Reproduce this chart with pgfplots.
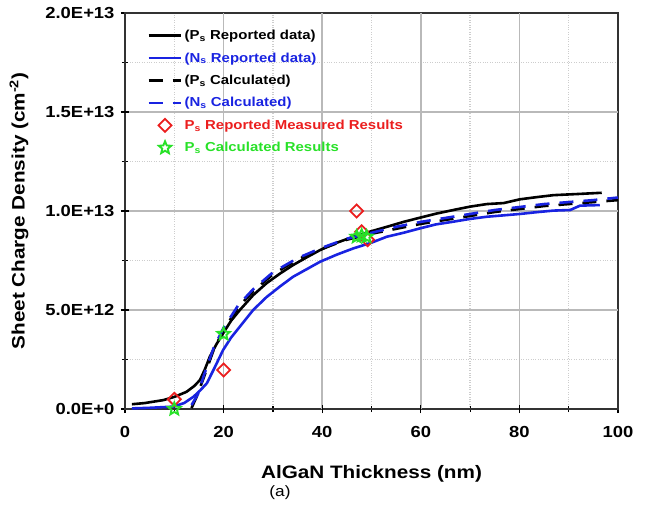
\documentclass[border=0pt]{standalone}
\usepackage{fontspec}
\setmainfont{Liberation Sans}[FakeStretch=1.15]
\usepackage{pgfplots}
\pgfplotsset{compat=1.18}
\definecolor{cblue}{RGB}{25,35,225}
\definecolor{cred}{RGB}{235,30,30}
\definecolor{cgreen}{RGB}{40,225,40}
\definecolor{gridgray}{RGB}{185,185,185}
\definecolor{mgridgray}{RGB}{205,205,205}
% outlined five-pointed star
\pgfdeclareplotmark{ostar}{%
  \pgfpathmoveto{\pgfpointpolar{90}{\pgfplotmarksize}}%
  \pgfpathlineto{\pgfpointpolar{126}{0.45\pgfplotmarksize}}%
  \pgfpathlineto{\pgfpointpolar{162}{\pgfplotmarksize}}%
  \pgfpathlineto{\pgfpointpolar{198}{0.45\pgfplotmarksize}}%
  \pgfpathlineto{\pgfpointpolar{234}{\pgfplotmarksize}}%
  \pgfpathlineto{\pgfpointpolar{270}{0.45\pgfplotmarksize}}%
  \pgfpathlineto{\pgfpointpolar{306}{\pgfplotmarksize}}%
  \pgfpathlineto{\pgfpointpolar{342}{0.45\pgfplotmarksize}}%
  \pgfpathlineto{\pgfpointpolar{18}{\pgfplotmarksize}}%
  \pgfpathlineto{\pgfpointpolar{54}{0.45\pgfplotmarksize}}%
  \pgfpathclose
  \pgfusepathqstroke}
\begin{document}
\begin{tikzpicture}
\begin{axis}[
  scale only axis, width=493pt, height=396pt,
  xmin=0, xmax=100, ymin=0, ymax=20,
  xtick={0,20,40,60,80,100}, xticklabels={0,20,40,60,80,100},
  ytick={0,5,10,15,20}, yticklabels={0.0E+0,5.0E+12,1.0E+13,1.5E+13,2.0E+13},
  minor x tick num=1, minor y tick num=1,
  tick pos=left, tick align=center,
  major tick length=8pt, minor tick length=6pt,
  every tick/.append style={black, line width=1.2pt},
  axis line style={line width=1.3pt, black!80},
  grid=both,
  minor grid style={color=mgridgray, dotted, line width=1.3pt},
  major grid style={color=gridgray, solid, line width=1.5pt},
  extra x ticks={20,40,60,80}, extra y ticks={5,10,15},
  extra x tick labels={}, extra y tick labels={},
  extra tick style={grid=major, major grid style={color=gridgray, solid, line width=1.5pt}},
  ticklabel style={font=\bfseries\fontsize{16}{18}\selectfont},
  xticklabel style={yshift=-10pt},
  yticklabel style={xshift=-3pt},
  xlabel={\bfseries AlGaN Thickness (nm)},
  ylabel={\bfseries Sheet Charge Density (cm\textsuperscript{-2})},
  label style={font=\bfseries\fontsize{18}{20}\selectfont},
  xlabel style={yshift=-13pt},
  ylabel style={yshift=2pt},
  legend style={draw=none, fill=none, at={(0.045,0.962)}, anchor=north west,
    font=\bfseries\fontsize{13}{14}\selectfont, row sep=7.5pt, inner sep=0pt},
  legend cell align=left,
  legend image code/.code={\draw[mark repeat=2,mark phase=2,#1] plot coordinates {(0cm,0cm) (0.575cm,0cm) (1.15cm,0cm)};},
]
% P_s reported data
\addplot[black, line width=2.6pt] coordinates {
(1.4,0.24) (4,0.3) (7.8,0.45) (10.1,0.62) (12.5,0.87) (14,1.15) (15.2,1.46) (16.2,2.0) (17.2,2.64)
(18.5,3.25) (19.9,3.82) (21.5,4.45) (23.3,5.0) (26,5.75) (28.7,6.35) (31.5,6.85) (34.1,7.27)
(37,7.68) (39.6,8.03) (43,8.4) (46.3,8.7) (50,8.98) (53.1,9.2) (56.5,9.45) (59.8,9.66)
(63,9.86) (66.6,10.05) (70,10.22) (73.4,10.35) (76.8,10.4) (80.1,10.59) (83.5,10.7)
(86.9,10.8) (92,10.86) (96.7,10.92)};
\addlegendentry{(P\textsubscript{s} Reported data)}
% N_s reported data
\addplot[cblue, line width=2.6pt] coordinates {
(1.4,0.03) (5,0.06) (9.8,0.12) (12,0.3) (13.9,0.62) (15.3,0.95) (16.6,1.3) (18.2,2.1) (19.9,2.98)
(21.5,3.6) (23.3,4.16) (26,5.0) (28.7,5.65) (31.5,6.2) (34.1,6.68) (37,7.08) (39.6,7.44)
(43,7.8) (46.3,8.11) (50,8.4) (53.1,8.7) (56.5,8.9) (59.8,9.12) (63,9.32) (66.6,9.46)
(70,9.6) (73.4,9.71) (76.8,9.78) (80.1,9.85) (83.5,9.94) (86.9,10.02) (90.3,10.05)
(92.3,10.27) (96.3,10.3)};
\addlegendentry{\textcolor{cblue}{(N\textsubscript{s} Reported data)}}
% P_s calculated
\addplot[black, line width=2.6pt, dash pattern=on 14pt off 10pt] coordinates {
(13.5,0.05) (14.5,0.6) (16,1.6) (18,3.0) (20,4.0) (23,5.15) (26,5.95) (30,6.8) (35,7.55)
(40,8.1) (45,8.55) (50,8.85) (55,9.1) (60,9.35) (65,9.55) (70,9.75) (75,9.95) (80,10.1)
(85,10.25) (90,10.35) (95,10.45) (100,10.55)};
\addlegendentry{(P\textsubscript{s} Calculated)}
% N_s calculated
\addplot[cblue, line width=2.6pt, dash pattern=on 14pt off 10pt] coordinates {
(13.5,0.2) (14.8,0.75) (16,1.7) (18,3.1) (20,4.1) (23,5.25) (26,6.05) (30,6.9) (35,7.62)
(40,8.15) (45,8.6) (50,8.9) (55,9.2) (60,9.45) (65,9.65) (70,9.85) (75,10.05) (80,10.2)
(85,10.35) (90,10.45) (95,10.55) (100,10.68)};
\addlegendentry{\textcolor{cblue}{(N\textsubscript{s} Calculated)}}
% reported measured results
\addplot[only marks, mark=square, mark size=4.6pt, mark options={rotate=45}, cred, line width=1.8pt] coordinates {
(10,0.49) (20,1.97) (47,10.0) (48,8.95) (49.2,8.55)};
\addlegendentry{\textcolor{cred}{P\textsubscript{s} Reported Measured Results}}
% calculated results
\addplot[only marks, mark=ostar, mark size=6.5pt, cgreen, line width=1.9pt] coordinates {
(10,0.0) (20,3.79) (47,8.7) (48,8.75) (49,8.7)};
\addlegendentry{\textcolor{cgreen}{P\textsubscript{s} Calculated Results}}
\end{axis}
\node[font=\fontsize{15}{17}\selectfont] at ([xshift=155pt,yshift=-84pt]current axis.south west) {(a)};
\path ([xshift=-125pt,yshift=-99pt]current axis.south west) rectangle ([xshift=533pt,yshift=409pt]current axis.south west);
\end{tikzpicture}
\end{document}
